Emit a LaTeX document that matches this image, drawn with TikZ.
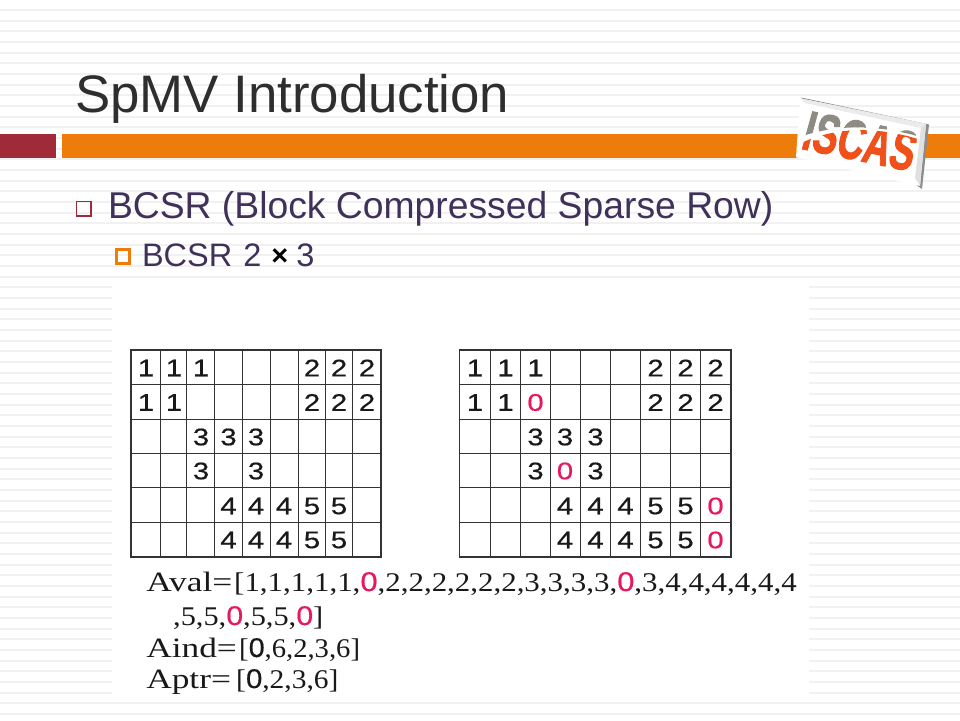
\documentclass[tikz,border=0pt]{standalone}
\usepackage{fontspec}
\setmainfont{Liberation Serif}
\setsansfont{Liberation Sans}
\newfontfamily\logofont[UprightFont=* Bold, FakeBold=2, FakeSlant=0.1]{Liberation Sans}
\newfontfamily\digitfont[FakeBold=0.5]{Liberation Sans}
\definecolor{stripe}{HTML}{F1F1F1}
\definecolor{barred}{HTML}{A02A38}
\definecolor{barorange}{HTML}{EE7C0B}
\definecolor{titleink}{HTML}{2E2E2E}
\definecolor{bodyink}{HTML}{40315A}
\definecolor{gridink}{HTML}{333333}
\definecolor{zeropink}{HTML}{E8185F}
\definecolor{logogray}{HTML}{8E8B84}
\definecolor{logoorange}{HTML}{F0501A}
\newcommand{\pz}{\textcolor{zeropink}{\digitfont 0}}
\newcommand{\bz}{{\digitfont 0}}
\tikzset{
  sanstext/.style={font=\sffamily, anchor=base west, inner sep=0pt, outer sep=0pt},
  digit/.style={font=\digitfont\fontsize{24}{24}\selectfont, inner sep=0pt, xscale=1.22, transform shape, text=black!90},
  pinkdigit/.style={digit, text=zeropink},
  eqlabel/.style={font=\rmfamily\fontsize{28}{28}\selectfont, anchor=base west, inner sep=0pt, xscale=1.263, transform shape, text=black!90},
  eqline/.style={font=\rmfamily\fontsize{27}{27}\selectfont, anchor=base west, inner sep=0pt, transform shape, text=black!90},
  gridouter/.style={draw=gridink, line width=1.6pt},
  gridinner/.style={draw=gridink, line width=1pt},
  logotext/.style={font=\logofont\fontsize{56}{56}\selectfont, inner sep=0pt, rotate=-11.7, xscale=.66, transform shape},
}
\begin{document}
\begin{tikzpicture}[x=1pt,y=-1pt]
\useasboundingbox (0,0) rectangle (960,720);
\fill[white] (0,0) rectangle (960,720);
% stripes
\foreach \k in {0,...,66} \fill[stripe] (0,{9+10.667*\k}) rectangle (960,{11+10.667*\k});
% image panel
\fill[white] (112,279) rectangle (809,695);
% title
\node[sanstext, text=titleink, font=\sffamily\fontsize{52.8}{52.8}\selectfont] (title) at (75,112) {SpMV Introduction};
% bars
\fill[barred] (0,134) rectangle (56,158);
\fill[barorange] (62,134) rectangle (960,158);
% logo
\fill[black!45] (801,97.5) -- (929,124.5) -- (922,189) -- (919,187) -- cycle;
\fill[white] (800,98.3) -- (926,124) -- (920,186) -- (796,157.3) -- cycle;
\fill[black!8] (800,98.3) -- (926,124) -- (921,128) -- (805,103) -- cycle;
\fill[black!12] (926,124) -- (920,186) -- (915,178) -- (921,128) -- cycle;
\begin{scope}
  \clip (790,141) .. controls (830,123) and (880,123) .. (930,140) -- (930,90) -- (790,90) -- cycle;
  \node[logotext, text=logogray] (logoa) at (859,141) {ISCAS};
\end{scope}
\begin{scope}
  \clip (790,149) .. controls (830,125) and (880,125) .. (930,143) -- (930,195) -- (790,195) -- cycle;
  \node[logotext, text=logoorange] (logob) at (859,141) {ISCAS};
\end{scope}
% bullets
\draw[barred, line width=1.3pt] (76.7,201.7) rectangle (91,216);
\node[sanstext, text=bodyink, font=\sffamily\fontsize{37.3}{37.3}\selectfont] (head) at (108,218) {BCSR (Block Compressed Sparse Row)};
\draw[barorange, line width=3.4pt] (116.7,249.7) rectangle (129.7,263.3);
\node[sanstext, text=bodyink, font=\sffamily\fontsize{32.5}{32.5}\selectfont] (sub) at (142,266) {BCSR\hspace{2pt} 2\hspace{1pt} \textcolor{black}{\raisebox{1pt}{\fontsize{29}{29}\selectfont\bfseries ×}}\hspace{-1pt} 3};
% left grid
\foreach \x in {160.7,186.7,214.3,242.3,270,298,325,352.7} \draw[gridinner] (\x,350) -- (\x,556.7);
\foreach \y in {384.7,419,453.3,487.7,522} \draw[gridinner] (131,\y) -- (380.7,\y);
\draw[gridouter] (131,350) rectangle (380.7,556.7);
% right grid
\foreach \x in {490.3,520.3,550,580,610.7,640.7,670.3,700.3} \draw[gridinner] (\x,350) -- (\x,556.7);
\foreach \y in {384.7,419,453.3,487.7,522} \draw[gridinner] (459.3,\y) -- (731,\y);
\draw[gridouter] (459.3,350) rectangle (731,556.7);
% digits
\def\rowys{{368,402.5,437,471,506,540}}
\def\lxs{{146,174,201,228.5,256,284,312,339,367}}
\def\rxs{{475,505.5,535.5,565,595.5,625.5,655.5,685.5,715.5}}
\foreach \c/\r/\d in {0/0/1,1/0/1,2/0/1,6/0/2,7/0/2,8/0/2,0/1/1,1/1/1,6/1/2,7/1/2,8/1/2,2/2/3,3/2/3,4/2/3,2/3/3,4/3/3,3/4/4,4/4/4,5/4/4,6/4/5,7/4/5,3/5/4,4/5/4,5/5/4,6/5/5,7/5/5}{
  \pgfmathsetmacro\px{\lxs[\c]}\pgfmathsetmacro\py{\rowys[\r]}
  \node[digit] (L\c-\r) at (\px,\py) {\d};
}
\foreach \c/\r/\d in {0/0/1,1/0/1,2/0/1,6/0/2,7/0/2,8/0/2,0/1/1,1/1/1,6/1/2,7/1/2,8/1/2,2/2/3,3/2/3,4/2/3,2/3/3,4/3/3,3/4/4,4/4/4,5/4/4,6/4/5,7/4/5,3/5/4,4/5/4,5/5/4,6/5/5,7/5/5}{
  \pgfmathsetmacro\px{\rxs[\c]}\pgfmathsetmacro\py{\rowys[\r]}
  \node[digit] (R\c-\r) at (\px,\py) {\d};
}
\foreach \c/\r in {2/1,3/3,8/4,8/5}{
  \pgfmathsetmacro\px{\rxs[\c]}\pgfmathsetmacro\py{\rowys[\r]}
  \node[pinkdigit] (R\c-\r) at (\px,\py) {0};
}
% equations
\node[eqlabel] (avall) at (146,591) {Aval=};
\node[eqline, xscale=1.145] (aval) at (234,591) {[1,1,1,1,1,\pz,2,2,2,2,2,2,3,3,3,3,\pz,3,4,4,4,4,4,4};
\node[eqline, xscale=1.124] (aval2) at (173,625) {,5,5,\pz,5,5,\pz]};
\node[eqlabel] (aindl) at (146,657) {Aind=};
\node[eqline, xscale=1.06] (aind) at (239,657) {[\bz,6,2,3,6]};
\node[eqlabel] (aptrl) at (146,688) {Aptr=};
\node[eqline, xscale=1.09] (aptr) at (236,688) {[\bz,2,3,6]};
\end{tikzpicture}
\end{document}
